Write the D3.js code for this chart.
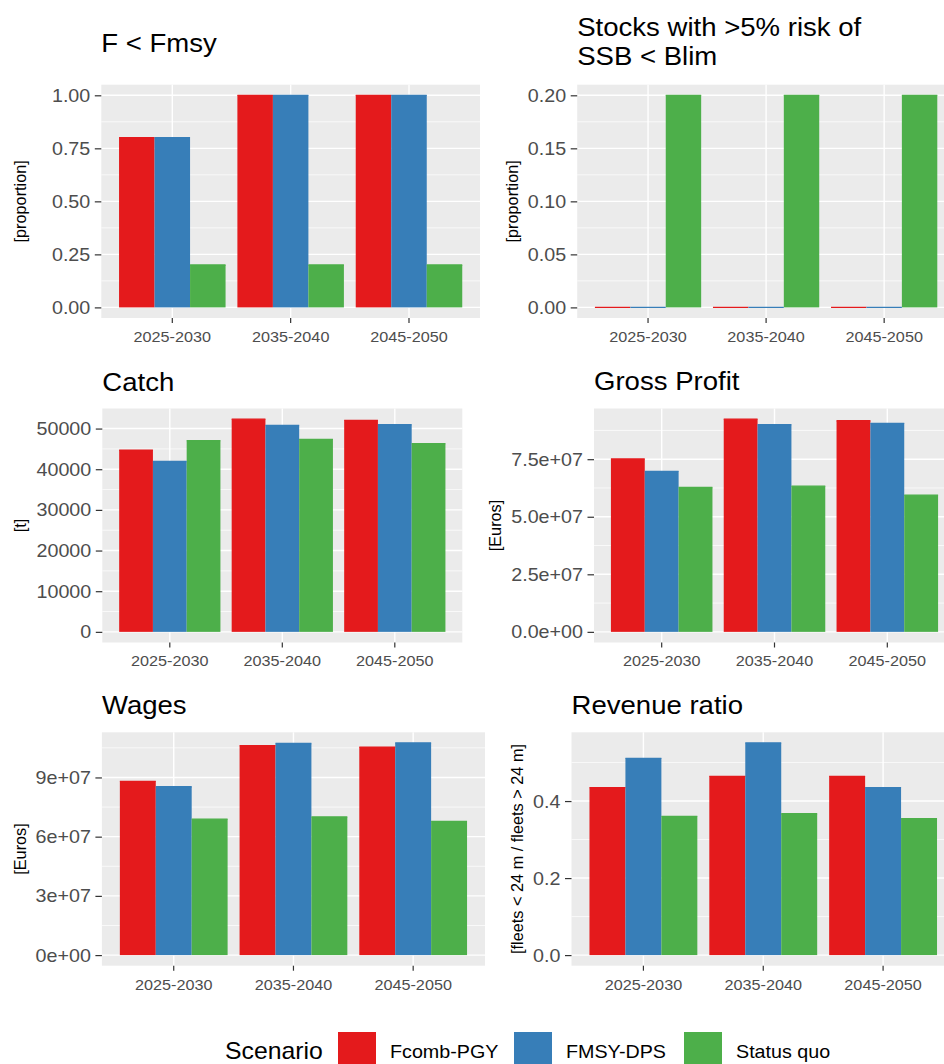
<!DOCTYPE html>
<html>
<head>
<meta charset="utf-8">
<script src="https://cdn.jsdelivr.net/npm/d3@7"></script>
<style>
  html, body { margin: 0; padding: 0; background: #fff; }
  svg { display: block; font-family: "Liberation Sans", Arial, sans-serif; }
</style>
</head>
<body>
<svg id="chart" width="944" height="1064"></svg>
<script>
// ---------- DATA ----------
const categories = ["2025-2030", "2035-2040", "2045-2050"];
const scenarios = ["Fcomb-PGY", "FMSY-DPS", "Status quo"];
const scenarioColors = ["#E41A1C", "#377EB8", "#4DAF4A"];

// values ordered [Fcomb-PGY, FMSY-DPS, Status quo], each over categories
const fBelowFmsy = [[0.8, 1.0, 1.0], [0.8, 1.0, 1.0], [0.2, 0.2, 0.2]];
const riskBlim   = [[0, 0, 0], [0, 0, 0], [0.2, 0.2, 0.2]];
const catchT     = [[44670, 52320, 52000], [41900, 50780, 50950], [47040, 47360, 46300]];
const grossProfit = [[75.1e6, 92.4e6, 91.7e6], [69.7e6, 90.0e6, 90.6e6], [62.7e6, 63.3e6, 59.4e6]];
const wages      = [[88.0e6, 106.1e6, 105.4e6], [85.3e6, 107.2e6, 107.5e6], [68.9e6, 70.0e6, 67.7e6]];
const revenueRatio = [[0.435, 0.464, 0.464], [0.511, 0.551, 0.435], [0.360, 0.367, 0.354]];

// tick values and labels
const ticksProp = [0, 0.25, 0.5, 0.75, 1.0];
const labelsProp = ["0.00", "0.25", "0.50", "0.75", "1.00"];
const ticksRisk = [0, 0.05, 0.10, 0.15, 0.20];
const labelsRisk = ["0.00", "0.05", "0.10", "0.15", "0.20"];
const ticksCatch = [0, 10000, 20000, 30000, 40000, 50000];
const labelsCatch = ["0", "10000", "20000", "30000", "40000", "50000"];
const ticksGross = [0, 2.5e7, 5.0e7, 7.5e7];
const labelsGross = ["0.0e+00", "2.5e+07", "5.0e+07", "7.5e+07"];
const ticksWages = [0, 3e7, 6e7, 9e7];
const labelsWages = ["0e+00", "3e+07", "6e+07", "9e+07"];
const ticksRevenue = [0, 0.2, 0.4];
const labelsRevenue = ["0.0", "0.2", "0.4"];

const titles = [["F < Fmsy"], ["Stocks with >5% risk of", "SSB < Blim"], ["Catch"], ["Gross Profit"], ["Wages"], ["Revenue ratio"]];
const yTitles = ["[proportion]", "[proportion]", "[t]", "[Euros]", "[Euros]", "[fleets < 24 m / fleets > 24 m]"];

// ---------- LAYOUT ----------
const panels = [
  { values: fBelowFmsy, ticks: ticksProp, labels: labelsProp, x0: 101.3, x1: 480, y0: 84.7, y1: 318, titleY: [52], yTitleX: 20 },
  { values: riskBlim, ticks: ticksRisk, labels: labelsRisk, x0: 577.2, x1: 955, y0: 84.7, y1: 318, titleY: [36, 65], yTitleX: 512.5 },
  { values: catchT, ticks: ticksCatch, labels: labelsCatch, x0: 102.3, x1: 462.3, y0: 408.5, y1: 642.5, titleY: [390.5], yTitleX: 20 },
  { values: grossProfit, ticks: ticksGross, labels: labelsGross, x0: 594, x1: 955, y0: 408.5, y1: 642.5, titleY: [390], yTitleX: 495.5 },
  { values: wages, ticks: ticksWages, labels: labelsWages, x0: 101.9, x1: 485, y0: 732.3, y1: 965.7, titleY: [714.3], yTitleX: 20.5 },
  { values: revenueRatio, ticks: ticksRevenue, labels: labelsRevenue, x0: 571.5, x1: 955, y0: 732.3, y1: 965.7, titleY: [714.3], yTitleX: 517.5 }
];

const SX = 1.06; // horizontal text stretch
const svg = d3.select("#chart");
svg.append("rect").attr("width", 944).attr("height", 1064).attr("fill", "#fff");

panels.forEach((p, pi) => {
  const g = svg.append("g");
  const maxV = d3.max(p.values.flat());
  const minV = Math.min(0, d3.min(p.values.flat()));
  const span = maxV - minV;
  const y = d3.scaleLinear().domain([minV - 0.05 * span, maxV + 0.05 * span]).range([p.y1, p.y0]);
  const x = d3.scaleBand().domain(categories).range([p.x0, p.x1]).paddingInner(0.1).paddingOuter(0.15);
  const xs = d3.scaleBand().domain(scenarios).range([0, x.bandwidth()]).padding(0);

  // panel background
  g.append("rect").attr("x", p.x0).attr("y", p.y0).attr("width", p.x1 - p.x0).attr("height", p.y1 - p.y0).attr("fill", "#EBEBEB");

  // minor grid
  const step = p.ticks[1] - p.ticks[0];
  const minor = [];
  const dom = y.domain();
  for (let k = -1; k < p.ticks.length + 1; k++) {
    const v = p.ticks[0] + step * (k + 0.5);
    if (v >= dom[0] && v <= dom[1]) minor.push(v);
  }
  g.selectAll(".minor").data(minor).enter().append("line")
    .attr("x1", p.x0).attr("x2", p.x1).attr("y1", d => y(d)).attr("y2", d => y(d))
    .attr("stroke", "#fff").attr("stroke-width", 0.7);
  // major grid
  g.selectAll(".majorY").data(p.ticks).enter().append("line")
    .attr("x1", p.x0).attr("x2", p.x1).attr("y1", d => y(d)).attr("y2", d => y(d))
    .attr("stroke", "#fff").attr("stroke-width", 1.4);
  g.selectAll(".majorX").data(categories).enter().append("line")
    .attr("x1", d => x(d) + x.bandwidth() / 2).attr("x2", d => x(d) + x.bandwidth() / 2)
    .attr("y1", p.y0).attr("y2", p.y1)
    .attr("stroke", "#fff").attr("stroke-width", 1.4);

  // bars
  const barData = [];
  scenarios.forEach((s, si) => categories.forEach((c, ci) => barData.push({ s, si, c, v: p.values[si][ci] })));
  g.selectAll(".bar").data(barData).enter().append("rect")
    .attr("x", d => x(d.c) + xs(d.s))
    .attr("width", xs.bandwidth())
    .attr("y", d => y(Math.max(0, d.v)))
    .attr("height", d => Math.abs(y(0) - y(d.v)))
    .attr("fill", d => scenarioColors[d.si]);
  // bar top edges (keeps zero-height bars visible as thin lines, like the outline in the original)
  g.selectAll(".barTop").data(barData).enter().append("line")
    .attr("x1", d => x(d.c) + xs(d.s))
    .attr("x2", d => x(d.c) + xs(d.s) + xs.bandwidth())
    .attr("y1", d => y(d.v)).attr("y2", d => y(d.v))
    .attr("stroke", d => scenarioColors[d.si])
    .attr("stroke-width", 1.3);

  const yAxis = g.append("g").attr("transform", `translate(${p.x0},0)`)
    .call(d3.axisLeft(y).tickValues(p.ticks).tickFormat((d, i) => p.labels[i]).tickSize(6.5).tickPadding(4.5));
  yAxis.select(".domain").remove();
  yAxis.selectAll(".tick line").attr("stroke", "#333333").attr("stroke-width", 1.2);
  yAxis.selectAll(".tick text").attr("fill", "#4D4D4D").style("font-size", "18.6px")
    .attr("font-family", "Liberation Sans, Arial, sans-serif")
    .attr("transform", `scale(${SX},1)`).attr("x", -11 / SX);

  const xAxis = g.append("g").attr("transform", `translate(0,${p.y1})`)
    .call(d3.axisBottom(x).tickSize(5).tickPadding(8));
  xAxis.select(".domain").remove();
  xAxis.selectAll(".tick line").attr("stroke", "#333333").attr("stroke-width", 1.2);
  xAxis.selectAll(".tick text").attr("fill", "#4D4D4D").style("font-size", "15.3px")
    .attr("font-family", "Liberation Sans, Arial, sans-serif")
    .attr("transform", `scale(${SX},1)`);

  // titles
  titles[pi].forEach((t, li) => {
    svg.append("text").attr("transform", `translate(${p.x0},${p.titleY[li]}) scale(${SX},1)`)
      .attr("fill", "#000").style("font-size", "26px").text(t);
  });

  // y axis title
  svg.append("text")
    .attr("transform", `translate(${p.yTitleX},${(p.y0 + p.y1) / 2}) rotate(-90)`)
    .attr("text-anchor", "middle").attr("dy", "0.35em")
    .attr("fill", "#000").style("font-size", "16.3px").text(yTitles[pi]);
});

// ---------- LEGEND ----------
const legend = svg.append("g");
legend.append("text").attr("transform", `translate(225,1058.5) scale(${SX},1)`)
  .style("font-size", "23.4px").attr("fill", "#000").text("Scenario");
const keyX = [338, 514, 684];
const labX = [390, 566, 736];
scenarios.forEach((s, i) => {
  legend.append("rect").attr("x", keyX[i]).attr("y", 1032).attr("width", 38).attr("height", 38)
    .attr("fill", scenarioColors[i]);
  legend.append("text").attr("transform", `translate(${labX[i]},1058) scale(${SX},1)`)
    .style("font-size", "18.6px").attr("fill", "#000").text(s);
});
</script>
</body>
</html>
